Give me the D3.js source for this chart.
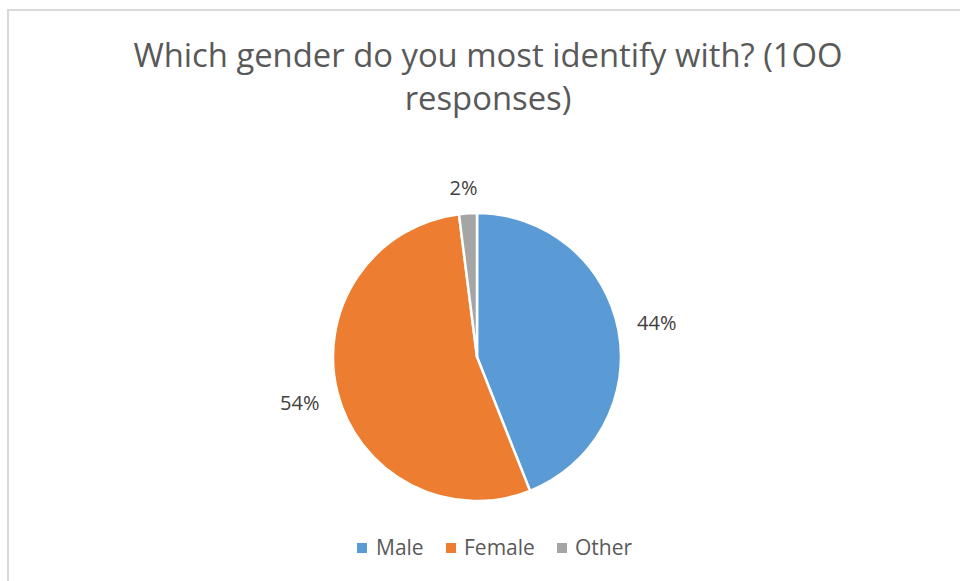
<!DOCTYPE html>
<html>
<head>
<meta charset="utf-8">
<script src="https://cdn.jsdelivr.net/npm/d3@7"></script>
<style>
  html, body { margin: 0; padding: 0; background: #fff; }
  svg { display: block; }
</style>
</head>
<body>
<svg id="chart" width="960" height="581"></svg>
<script>
// Survey answers: share of respondents per gender
const categories = ["Male", "Female", "Other"];
const values = [44, 54, 2];
const valueLabels = ["44%", "54%", "2%"];
const colors = ["#5B9BD5", "#ED7D31", "#A5A5A5"];
const titleLines = ["Which gender do you most identify with? (1OO", "responses)"];

const svg = d3.select("#chart");
const font = "'Open Sans', 'Noto Sans', sans-serif";

// chart frame
svg.append("rect")
  .attr("x", 8).attr("y", 10)
  .attr("width", 970).attr("height", 600)
  .attr("fill", "#fff")
  .attr("stroke", "#D9D9D9")
  .attr("stroke-width", 2);

// title
svg.append("g").selectAll("text")
  .data(titleLines)
  .join("text")
  .attr("x", 488)
  .attr("y", (d, i) => 67 + i * 43)
  .attr("text-anchor", "middle")
  .attr("font-family", font)
  .attr("font-size", 32.8)
  .attr("fill", "#595959")
  .text(d => d);

// pie
const cx = 477, cy = 357, r = 144;
const data = categories.map((c, i) => ({ name: c, value: values[i], label: valueLabels[i], color: colors[i] }));
const pie = d3.pie().value(d => d.value).sort(null);
const arcs = pie(data);
const arc = d3.arc().innerRadius(0).outerRadius(r);

const g = svg.append("g").attr("transform", `translate(${cx},${cy})`);
g.selectAll("path")
  .data(arcs)
  .join("path")
  .attr("d", arc)
  .attr("fill", d => d.data.color)
  .attr("stroke", "#fff")
  .attr("stroke-width", 2.5)
  .attr("stroke-linejoin", "round");

// data labels outside the slices
const labelArc = d3.arc().innerRadius(r + 39).outerRadius(r + 39);
const labelOffsets = { Male: [0, 0], Female: [0, 0], Other: [-2, 14] };
g.selectAll("text.lbl")
  .data(arcs)
  .join("text")
  .attr("class", "lbl")
  .attr("x", d => labelArc.centroid(d)[0] + labelOffsets[d.data.name][0])
  .attr("y", d => labelArc.centroid(d)[1] + labelOffsets[d.data.name][1])
  .attr("dy", "0.35em")
  .attr("text-anchor", "middle")
  .attr("font-family", font)
  .attr("font-size", 20)
  .attr("fill", "#404040")
  .text(d => d.data.label);

// legend
const legendSwatchX = [357, 446, 557];
const legendTextX = [376, 464, 575];
const leg = svg.append("g");
const items = leg.selectAll("g")
  .data(data)
  .join("g");
items.append("rect")
  .attr("x", (d, i) => legendSwatchX[i]).attr("y", 543)
  .attr("width", 10).attr("height", 10)
  .attr("fill", d => d.color);
items.append("text")
  .attr("x", (d, i) => legendTextX[i]).attr("y", 548)
  .attr("dy", "0.35em")
  .attr("font-family", font)
  .attr("font-size", 21)
  .attr("fill", "#595959")
  .text(d => d.name);
</script>
</body>
</html>
